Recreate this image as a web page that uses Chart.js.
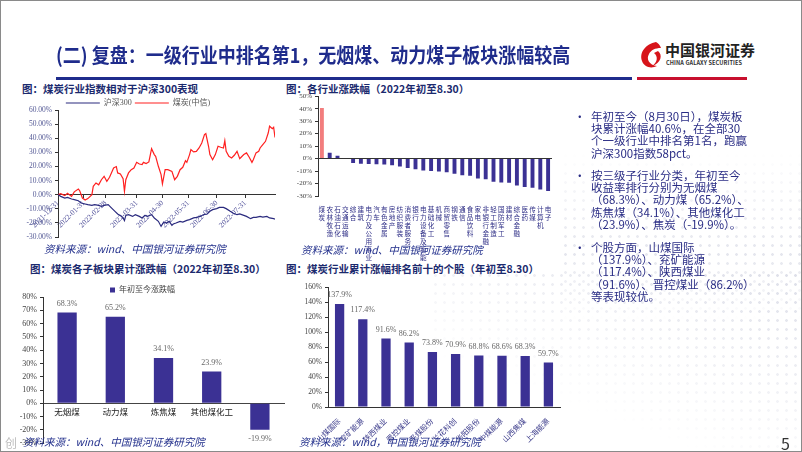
<!DOCTYPE html>
<html lang="zh-CN">
<head>
<meta charset="utf-8">
<script src="https://cdn.jsdelivr.net/npm/chart.js@4.4.1/dist/chart.umd.min.js"></script>
<style>
    body { margin: 0; background: #fff; font-family: 'Noto Sans CJK SC', sans-serif; }
    #lamina { position: relative; width: 800px; height: 450px; border: 1px solid #8a8a8a; overflow: hidden; }
    .abs { position: absolute; white-space: nowrap; }
    canvas { position: absolute; }
    .puntos { position: absolute; background-image: radial-gradient(circle, #d9dbe6 1.1px, rgba(255,255,255,0) 1.6px); background-size: 9px 9px; }
    .titulo { left: 55px; top: 40px; font-size: 20px; font-weight: bold; color: #1f2c8c; line-height: 28px; transform: scaleX(0.9); transform-origin: left top; }
    .subtitulo { font-size: 10.5px; font-weight: bold; color: #1b2a6e; line-height: 14px; }
    .fuente { font-size: 10.5px; font-style: italic; color: #23308c; line-height: 14px; }
    .vineta { left: 573px; font-size: 11.5px; color: #2a2d85; line-height: 12.2px; }
    .vineta .punto { position: absolute; left: 0; top: 0; }
    .vineta .texto { position: absolute; left: 17px; top: 0; }
</style>
</head>
<body>
<div id="lamina">
    <!-- fondo de puntos tenues -->
    <div class="puntos" style="left:430px; top:270px; width:370px; height:180px; -webkit-mask-image: linear-gradient(200deg, rgba(0,0,0,0.9), rgba(0,0,0,0) 70%); mask-image: linear-gradient(200deg, rgba(0,0,0,0.9), rgba(0,0,0,0) 70%);"></div>
    <div class="puntos" style="left:560px; top:150px; width:240px; height:170px; -webkit-mask-image: linear-gradient(180deg, rgba(0,0,0,0), rgba(0,0,0,0.7) 60%, rgba(0,0,0,0)); mask-image: linear-gradient(180deg, rgba(0,0,0,0), rgba(0,0,0,0.7) 60%, rgba(0,0,0,0));"></div>

    <div class="abs titulo">(二) 复盘：一级行业中排名第1，无烟煤、动力煤子板块涨幅较高</div>

    <!-- logo -->
    <svg class="abs" style="left:638px; top:40px" width="24" height="28" viewBox="0 0 24 28">
        <path d="M17 1 C7 3 0 11 3 20 C5 26 12 28 18 25 C10 24 7 18 10 13 C12 9 16 7 22 7 C21 4 19 2 17 1 Z" fill="#d7141a"/>
        <path d="M19 10 C24 14 22 22 13 25 C19 21 19 15 15 12 Z" fill="#d7141a"/>
    </svg>
    <div class="abs" style="left:664px; top:39px; font-size:15px; font-weight:bold; color:#222; line-height:20px">中国银河证券</div>
    <div class="abs" style="left:665px; top:59px; font-size:5.6px; font-weight:bold; color:#333; line-height:7px; letter-spacing:0.1px">CHINA GALAXY SECURITIES</div>

    <div class="abs" style="left:55px; top:76px; width:576px; height:3px; background:#1f2c8c"></div>
    <div class="abs" style="left:636px; top:76px; width:110px; height:3px; background:#c8102e"></div>

    <div class="abs subtitulo" style="left:21px; top:81px">图：煤炭行业指数相对于沪深300表现</div>
    <div class="abs subtitulo" style="left:285px; top:81px">图：各行业涨跌幅（2022年初至8.30）</div>
    <div class="abs subtitulo" style="left:29px; top:261px">图：煤炭各子板块累计涨跌幅（2022年初至8.30）</div>
    <div class="abs subtitulo" style="left:285px; top:261px">图：煤炭行业累计涨幅排名前十的个股（年初至8.30）</div>

    <canvas id="lineChart" width="285" height="150" style="left:0; top:95px"></canvas>
    <canvas id="industriaChart" width="280" height="172" style="left:280px; top:88px"></canvas>
    <canvas id="subChart" width="290" height="166" style="left:0; top:284px"></canvas>
    <canvas id="accionChart" width="285" height="171" style="left:285px; top:279px"></canvas>

    <div class="abs fuente" style="left:43px; top:241px">资料来源：wind、中国银河证券研究院</div>
    <div class="abs fuente" style="left:300px; top:242px">资料来源：wind、中国银河证券研究院</div>
    <div class="abs fuente" style="left:22px; top:434px">资料来源：wind、中国银河证券研究院</div>
    <div class="abs fuente" style="left:298px; top:434px">资料来源：wind，中国银河证券研究院</div>

    <div class="abs" style="left:4px; top:433px; font-size:12px; color:#bdbdbd">创</div>
    <div class="abs" style="left:780px; top:430px; font-size:16px; color:#333">5</div>

    <!-- texto a la derecha -->
    <div class="abs vineta" style="top:109px">
        <span class="punto">•</span>
        <div class="texto">年初至今（8月30日），煤炭板<br>块累计涨幅40.6%，在全部30<br>个一级行业中排名第1名，跑赢<br>沪深300指数58pct。</div>
    </div>
    <div class="abs vineta" style="top:168px">
        <span class="punto">•</span>
        <div class="texto">按三级子行业分类，年初至今<br>收益率排行分别为无烟煤<br>（68.3%）、动力煤（65.2%）、<br>炼焦煤（34.1%）、其他煤化工<br>（23.9%）、焦炭（-19.9%）。</div>
    </div>
    <div class="abs vineta" style="top:240px">
        <span class="punto">•</span>
        <div class="texto">个股方面，山煤国际<br>（137.9%）、兖矿能源<br>（117.4%）、陕西煤业<br>（91.6%）、晋控煤业（86.2%）<br>等表现较优。</div>
    </div>
</div>

<script>
// Datos: 煤炭(中信) vs 沪深300, dias de cotizacion desde 2021-12-31
const diasCarbon = [0,2,5,7,10,12,15,16,18,20,22,25,26,28,30,32,34,36,38,41,43,44,46,48,49,50,52,54,56,58,60,62,63,65,67,69,71,72,74,76,77,79,81,84,86,88,90,92,94,95,97,98,100,102,104,106,108,109,111,112,114,116,118,120,122,123,124,126,128,130,132,134,135,137,139,141,143,144,146,148,149,151,153,155,156,158,159,160];
const valoresCarbon = [0,0.7,-0.7,1,-1.2,2,4,2.8,-2.4,-3.8,-2.8,0,5.9,8.3,7,10.6,13,9.5,12.3,18.9,19.9,15.4,14.7,11.3,2.4,10.6,15.4,17.7,18.9,22.9,21.7,21.3,22.9,22,23.2,32.6,28.4,27.2,20.1,14.2,7.6,17.7,17.7,16.5,10.6,13,17.7,19.4,24.1,22.9,28.4,31.9,30.3,30.7,33.1,36.6,42.6,43.3,34.3,28.4,24.8,28.4,34.3,33.6,33.1,38.3,30.7,27.2,26,27.9,30.7,25.5,26.5,28.4,29.6,26.5,22.9,24.8,29.6,30.7,33.1,35.5,37.8,43.7,48.5,46.8,47.8,40.6];
const diasHs300 = [0,2,5,7,10,12,15,17,20,22,25,27,30,32,34,37,39,42,44,47,48,49,50,52,55,57,60,62,64,66,69,71,74,76,78,80,82,84,85,87,90,92,95,97,100,102,105,107,110,112,114,117,119,122,124,127,129,132,134,137,139,142,144,146,149,151,154,156,159,160];
const valoresHs300 = [0,-1.2,-2.4,-1.9,-3.1,-3.5,-4.3,-5.9,-6.6,-7.1,-7.6,-7.1,-7.6,-8.3,-7.6,-7.1,-9,-11.8,-13.7,-15.4,-16.5,-18.4,-14.7,-14.2,-15.4,-14.2,-15.4,-16.5,-14.7,-15.4,-14.2,-16.5,-18.9,-22.5,-19.4,-20.1,-18.9,-21.7,-20.8,-20.1,-18.9,-19.4,-18.2,-17.7,-16.5,-16.1,-15.4,-14.2,-13.7,-11.8,-10.6,-9.9,-9,-9,-9.9,-11.8,-13,-14.2,-13.7,-14.7,-15.4,-17,-16.1,-16.1,-15.4,-15.9,-15.4,-16.5,-17,-17.3];
const diasMarca = [0, 19, 35, 58, 77, 96, 117, 138];
const etiquetasFecha = ['2021-12-31','2022-01-31','2022-02-28','2022-03-31','2022-04-30','2022-05-31','2022-06-30','2022-07-31'];

// Datos: 各行业涨跌幅
const industrias = ['煤炭','农林牧渔','石油石化','交通运输','综合','建筑','电力及公用事业','汽车','有色金属','房地产','纺织服装','消费者服务','银行','电力设备及新能源','基础化工','机械','商贸零售','钢铁','通信','食品饮料','家电','非银行金融','轻工制造','国防军工','建材','综合金融','医药','传媒','计算机','电子'];
const valoresIndustria = [40.6,4.7,2.2,0.5,-3.5,-4.1,-4.4,-4.6,-4.8,-5.4,-6.4,-7.5,-8.5,-9.5,-10,-10.4,-10.9,-12.2,-13.3,-13.8,-15.9,-16.5,-18.6,-19.1,-19.4,-21.5,-22.8,-23.4,-24.7,-26];

// Datos: 煤炭各子板块
const subsectores = ['无烟煤','动力煤','炼焦煤','其他煤化工','焦炭'];
const valoresSubsector = [68.3, 65.2, 34.1, 23.9, -19.9];

// Datos: 前十个股
const acciones = ['山煤国际','兖矿能源','陕西煤业','晋控煤业','平煤股份','兰花科创','华阳股份','中煤能源','山西焦煤','上海能源'];
const valoresAccion = [137.9, 117.4, 91.6, 86.2, 73.8, 70.9, 68.8, 68.6, 68.3, 59.7];

Chart.defaults.font.family = "'Liberation Serif', 'Noto Sans CJK SC', serif";
Chart.defaults.animation = false;

const AZUL_BARRA = '#3b3194';

// Plugin para escribir el valor encima (o debajo) de cada barra
const etiquetasBarras = {
    id: 'etiquetasBarras',
    afterDatasetsDraw(chart) {
        const ctx = chart.ctx;
        const meta = chart.getDatasetMeta(0);
        const valores = chart.data.datasets[0].data;
        ctx.save();
        ctx.font = "8px 'Liberation Serif', serif";
        ctx.fillStyle = '#666';
        ctx.textAlign = 'center';
        ctx.textBaseline = 'middle';
        meta.data.forEach((barra, i) => {
            const v = valores[i];
            const y = v >= 0 ? barra.y - 9 : barra.y + 9;
            ctx.fillText(v.toFixed(1) + '%', barra.x, y);
        });
        ctx.restore();
    }
};

function crearGraficoLineas() {
    const ctx = document.getElementById('lineChart').getContext('2d');
    new Chart(ctx, {
        type: 'line',
        data: {
            datasets: [{
                label: '沪深300',
                data: diasHs300.map((d, i) => ({ x: d, y: valoresHs300[i] })),
                borderColor: '#2a2a7e',
                backgroundColor: '#2a2a7e',
                borderWidth: 1.2,
                pointRadius: 0
            }, {
                label: '煤炭(中信)',
                data: diasCarbon.map((d, i) => ({ x: d, y: valoresCarbon[i] })),
                borderColor: '#ff2020',
                backgroundColor: '#ff2020',
                borderWidth: 1.2,
                pointRadius: 0
            }]
        },
        options: {
            responsive: false,
            layout: { padding: { top: 0, right: 11, bottom: 9, left: 0 } },
            plugins: {
                legend: {
                    maxHeight: 14,
                    labels: { usePointStyle: true, pointStyle: 'line', pointStyleWidth: 34, boxHeight: 8, padding: 3, color: '#555', font: { size: 8 } }
                },
                tooltip: { enabled: false }
            },
            scales: {
                x: {
                    type: 'linear',
                    min: 0,
                    max: 160,
                    position: { y: 0 },
                    afterBuildTicks: s => { s.ticks = diasMarca.map(v => ({ value: v })); },
                    ticks: { callback: (v, i) => etiquetasFecha[i], minRotation: 45, maxRotation: 45, padding: 1, color: '#4a4a96', font: { size: 7.5 } },
                    grid: { drawOnChartArea: false, tickLength: 3, color: '#333' },
                    border: { color: '#333' }
                },
                y: {
                    min: -30,
                    max: 60,
                    afterFit: s => { s.width = 57; },
                    ticks: { stepSize: 10, callback: v => v.toFixed(2) + '%', color: '#555a96', font: { size: 7.5 } },
                    grid: { drawOnChartArea: false, tickLength: 3, color: '#333' },
                    border: { color: '#333' }
                }
            }
        }
    });
}

function crearGraficoIndustrias() {
    const ctx = document.getElementById('industriaChart').getContext('2d');
    new Chart(ctx, {
        type: 'bar',
        data: {
            labels: industrias.map(n => n.split('')),
            datasets: [{
                data: valoresIndustria,
                backgroundColor: valoresIndustria.map((v, i) => i === 0 ? '#f27d7d' : AZUL_BARRA),
                barPercentage: 0.5,
                categoryPercentage: 1
            }]
        },
        options: {
            responsive: false,
            layout: { padding: { top: 6, right: 9, bottom: 0, left: 0 } },
            plugins: { legend: { display: false }, tooltip: { enabled: false } },
            scales: {
                x: {
                    afterFit: s => { s.height = 65; },
                    ticks: { autoSkip: false, minRotation: 0, maxRotation: 0, padding: 2, color: '#2e2e86', font: { size: 6.6, lineHeight: 1.2, family: "'Noto Sans CJK SC', sans-serif" } },
                    grid: { display: false },
                    border: { display: false }
                },
                y: {
                    min: -30,
                    max: 50,
                    afterFit: s => { s.width = 37; },
                    ticks: { stepSize: 10, callback: v => v + '%', color: '#444', font: { size: 7 } },
                    grid: {
                        color: c => c.tick.value === 0 ? '#333' : 'rgba(0,0,0,0)',
                        tickColor: '#333',
                        tickLength: 3
                    },
                    border: { color: '#333' }
                }
            }
        }
    });
}

function crearGraficoSubsectores() {
    const ctx = document.getElementById('subChart').getContext('2d');
    new Chart(ctx, {
        type: 'bar',
        data: {
            labels: subsectores,
            datasets: [{
                label: '年初至今涨跌幅',
                data: valoresSubsector,
                backgroundColor: AZUL_BARRA,
                barPercentage: 0.4,
                categoryPercentage: 1
            }]
        },
        options: {
            responsive: false,
            layout: { padding: { top: 0, right: 7, bottom: 4, left: 0 } },
            plugins: {
                legend: {
                    maxHeight: 12,
                    labels: { boxWidth: 5, boxHeight: 5, padding: 1, color: '#444', font: { size: 8 } }
                },
                tooltip: { enabled: false }
            },
            scales: {
                x: {
                    position: { y: 0 },
                    ticks: { autoSkip: false, minRotation: 0, maxRotation: 0, padding: 4, color: '#222', font: { size: 8.5 } },
                    grid: { drawOnChartArea: false, drawTicks: false },
                    border: { color: '#444' }
                },
                y: {
                    min: -30,
                    max: 80,
                    afterFit: s => { s.width = 42; },
                    ticks: { stepSize: 10, callback: v => v + '%', color: '#444', font: { size: 8 } },
                    grid: { drawOnChartArea: false, tickLength: 3, color: '#333' },
                    border: { color: '#333' }
                }
            }
        },
        plugins: [etiquetasBarras]
    });
}

function crearGraficoAcciones() {
    const ctx = document.getElementById('accionChart').getContext('2d');
    new Chart(ctx, {
        type: 'bar',
        data: {
            labels: acciones,
            datasets: [{
                data: valoresAccion,
                backgroundColor: AZUL_BARRA,
                barPercentage: 0.4,
                categoryPercentage: 1
            }]
        },
        options: {
            responsive: false,
            layout: { padding: { top: 6, right: 11, bottom: 0, left: 0 } },
            plugins: { legend: { display: false }, tooltip: { enabled: false } },
            scales: {
                x: {
                    afterFit: s => { s.height = 44; },
                    ticks: { autoSkip: false, minRotation: 45, maxRotation: 45, padding: 2, color: '#3b3b8b', font: { size: 7.5 } },
                    grid: { display: false },
                    border: { color: '#333' }
                },
                y: {
                    min: 0,
                    max: 160,
                    afterFit: s => { s.width = 42; },
                    ticks: { stepSize: 20, callback: v => v + '%', color: '#444', font: { size: 7.5 } },
                    grid: { drawOnChartArea: false, tickLength: 3, color: '#333' },
                    border: { color: '#333' }
                }
            }
        },
        plugins: [etiquetasBarras]
    });
}

crearGraficoLineas();
crearGraficoIndustrias();
crearGraficoSubsectores();
crearGraficoAcciones();
</script>
</body>
</html>
